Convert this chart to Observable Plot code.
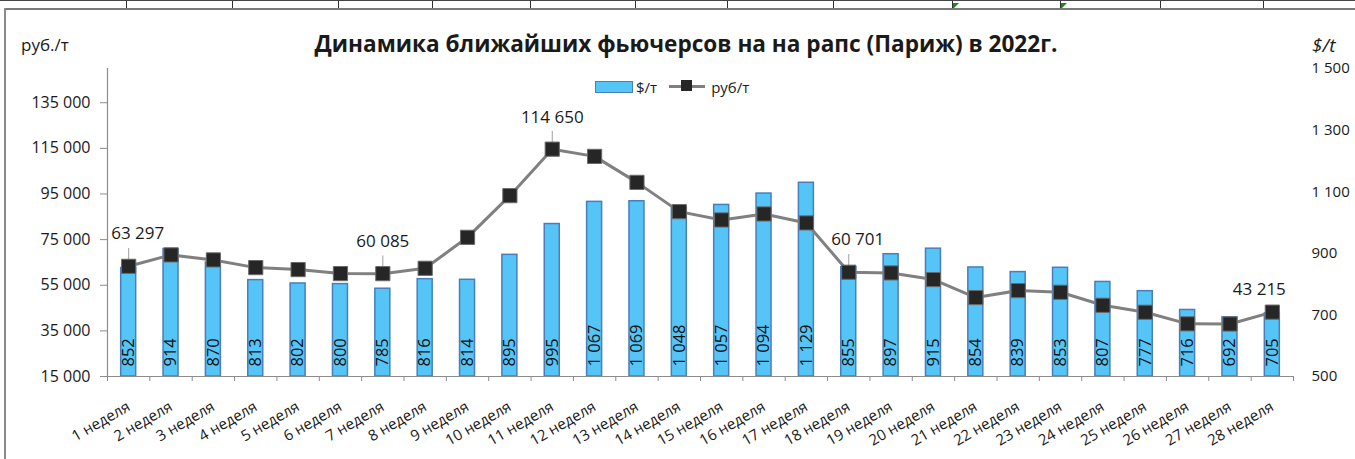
<!DOCTYPE html>
<html><head><meta charset="utf-8">
<script src="https://cdn.jsdelivr.net/npm/d3@7"></script>
<script src="https://cdn.jsdelivr.net/npm/@observablehq/plot@0.6"></script>
<style>
body{margin:0;background:#fff;font-family:"Open Sans",sans-serif;color:#1a1a1a;}
#wrap{position:relative;width:1355px;height:459px;overflow:hidden;background:#fff;}
#chart{position:absolute;left:0;top:0;}
.abs{position:absolute;white-space:nowrap;}
#title{left:0;width:1372px;top:29px;text-align:center;font-weight:bold;font-size:22.6px;line-height:30px;}
#ylab{left:21px;top:33px;font-size:17px;line-height:24px;}
#ylab2{left:1312px;top:32px;font-size:19px;font-style:italic;line-height:26px;}
#legend{left:595px;top:74px;height:22px;font-size:15px;line-height:22px;}
#legend span{display:inline-block;vertical-align:middle;}
.sw{width:36px;height:10px;background:#55C5F8;border:1px solid #4A7EBB;}
.ln{position:relative;width:36px;height:3px;background:#808080;}
.ln i{position:absolute;left:12px;top:-5px;width:11px;height:11px;background:#262626;}
.grid{position:absolute;left:0;top:0;width:1355px;height:9px;border-top:1px solid #444;}
.vl{position:absolute;top:0;width:1px;height:8px;background:#333;}
.tri{position:absolute;top:2px;width:0;height:0;border-top:6px solid #1a8a1a;border-right:6px solid transparent;}
#frameTop{position:absolute;left:4px;top:8px;width:1351px;height:2px;background:#7a7a7a;}
#frameLeft{position:absolute;left:4px;top:8px;width:2px;height:451px;background:#8a8a8a;}
</style></head><body>
<div id="wrap">
  <div class="grid" id="grid"></div>
  <div id="frameTop"></div>
  <div id="frameLeft"></div>
  <div id="chart"></div>
  <div class="abs" id="title">Динамика ближайших фьючерсов на на рапс (Париж) в 2022г.</div>
  <div class="abs" id="ylab">руб./т</div>
  <div class="abs" id="ylab2">$/t</div>
  <div class="abs" id="legend"><span class="sw"></span><span style="margin:0 12px 0 3px">$/т</span><span class="ln"><i></i></span><span style="margin-left:6px">руб/т</span></div>
</div>
<script>
// ---- data ----
const weeks = ["1 неделя","2 неделя","3 неделя","4 неделя","5 неделя","6 неделя","7 неделя","8 неделя","9 неделя","10 неделя","11 неделя","12 неделя","13 неделя","14 неделя","15 неделя","16 неделя","17 неделя","18 неделя","19 неделя","20 неделя","21 неделя","22 неделя","23 неделя","24 неделя","25 неделя","26 неделя","27 неделя","28 неделя"];
const usdPerTon = [852,914,870,813,802,800,785,816,814,895,995,1067,1069,1048,1057,1094,1129,855,897,915,854,839,853,807,777,716,692,705];
const rubPerTon = [63297,68290,66100,62730,61860,60110,60085,62430,76000,94270,114650,111480,100090,87260,83620,86250,82310,60701,60400,57480,49600,52660,51920,46220,43160,38080,38000,43215];
const leftTicks = [15000,35000,55000,75000,95000,115000,135000];
const rightTicks = [500,700,900,1100,1300,1500];
const noteWeeksA = [1,18];
const noteWeeksB = [7,11];
const noteWeeksC = [28];

// spreadsheet strip decoration
const gridX = [126,232,338,432,530,635,727,833,952,1060,1160,1263];
const grid = document.getElementById("grid");
gridX.forEach(x => { const d = document.createElement("div"); d.className = "vl"; d.style.left = x + "px"; grid.appendChild(d); });
[952,1060].forEach(x => { const t = document.createElement("div"); t.className = "tri"; t.style.left = (x+1) + "px"; grid.appendChild(t); });

const fmt = d3.formatLocale({decimal: ",", thousands: "\u00a0", grouping: [3], currency: ["", ""]}).format(",d");
const R0 = 15000, R1 = 150000, U0 = 500, U1 = 1500;
const toRub = d => R0 + (d - U0) * (R1 - R0) / (U1 - U0);
const toUsd = r => U0 + (r - R0) * (U1 - U0) / (R1 - R0);

const data = weeks.map((w, k) => ({i: k + 1, w, usd: usdPerTon[k], rub: rubPerTon[k]}));
const boundaries = d3.range(0.5, weeks.length + 1, 1);
const half = 0.177;

const chart = Plot.plot({
  width: 1355, height: 459,
  marginLeft: 107, marginRight: 62, marginTop: 68, marginBottom: 83,
  style: {fontFamily: "Open Sans", fontSize: "16px", color: "#1a1a1a", background: "transparent", overflow: "visible"},
  x: {type: "linear", domain: [0.5, weeks.length + 0.5]},
  y: {domain: [R0, R1]},
  marks: [
    Plot.rectY(data, {x1: d => d.i - half, x2: d => d.i + half, y1: R0, y2: d => toRub(d.usd), fill: "#55C5F8", stroke: "#4A7EBB", strokeWidth: 1.5}),
    Plot.ruleY([R0], {stroke: "#8c8c8c", strokeWidth: 1.2}),
    Plot.ruleX([0.5], {y1: R0, y2: R1, stroke: "#8c8c8c", strokeWidth: 1.2}),
    Plot.axisY({ticks: leftTicks, tickFormat: fmt, tickSize: 7, tickPadding: 10, label: null, stroke: "#8c8c8c", fontSize: 16}),
    Plot.axisY({anchor: "right", ticks: rightTicks.map(toRub), tickFormat: d => fmt(Math.round(toUsd(d))), tickSize: 0, tickPadding: 18, textAnchor: "start", label: null, fontSize: 15}),
    Plot.axisX({ticks: boundaries, tickFormat: () => "", tickSize: 5, stroke: "#8c8c8c", label: null}),
    Plot.axisX({ticks: data.map(d => d.i), tickFormat: i => weeks[i - 1], tickSize: 0, tickPadding: 29, tickRotate: -30, label: null, fontSize: 15}),
    Plot.text(data, {x: "i", y: R0, text: d => fmt(d.usd), rotate: -90, textAnchor: "start", dy: -10, fontSize: 16.5, fill: "#111"}),
    Plot.line(data, {x: "i", y: "rub", stroke: "#808080", strokeWidth: 3}),
    Plot.link(data.filter(d => [1, 7, 11, 18].includes(d.i)), {x1: "i", x2: "i", y1: "rub", y2: d => d.rub + 8000, stroke: "#a0a0a0", strokeWidth: 1}),
    Plot.dot(data, {x: "i", y: "rub", symbol: "square", r: 8, fill: "#262626", stroke: "#6a6a6a", strokeWidth: 1}),
    Plot.text(data.filter(d => noteWeeksA.includes(d.i)), {x: "i", y: "rub", text: d => fmt(d.rub), dx: 9, dy: -33, fontSize: 17}),
    Plot.text(data.filter(d => noteWeeksB.includes(d.i)), {x: "i", y: "rub", text: d => fmt(d.rub), dx: 0, dy: -32, fontSize: 17}),
    Plot.text(data.filter(d => noteWeeksC.includes(d.i)), {x: "i", y: "rub", text: d => fmt(d.rub), dx: -13, dy: -23, fontSize: 17})
  ]
});
document.getElementById("chart").appendChild(chart);
</script>
</body></html>
